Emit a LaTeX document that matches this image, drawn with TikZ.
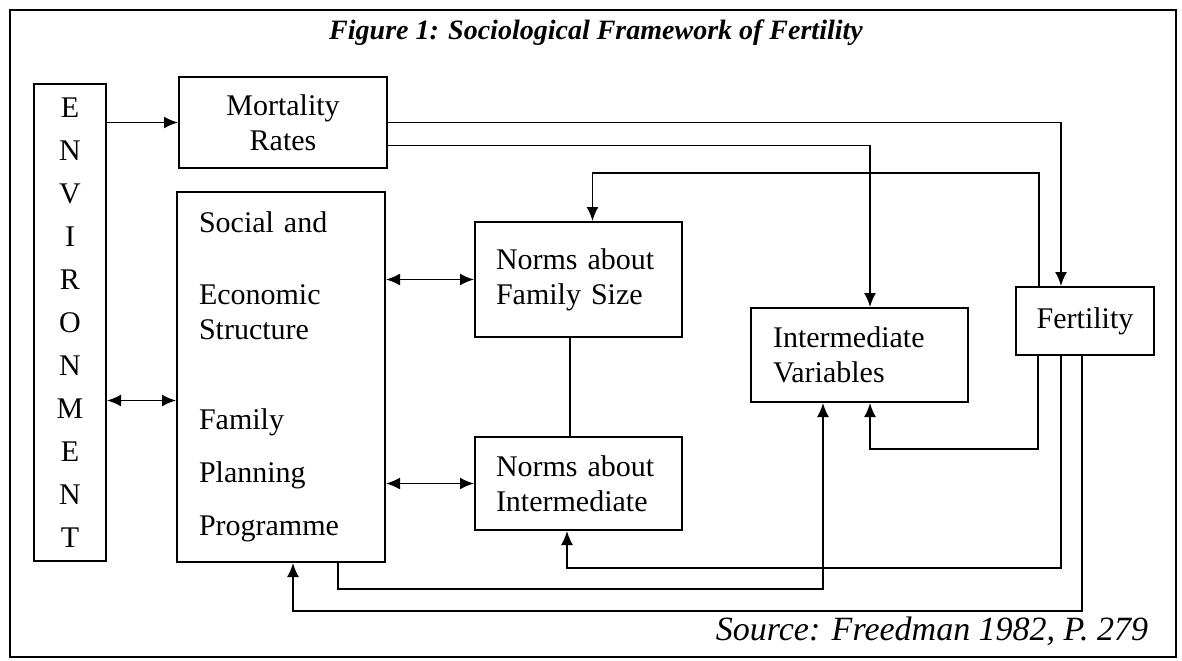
\documentclass[tikz,border=0pt]{standalone}
\usepackage{fontspec}
\setmainfont{Liberation Serif}
\usepackage{tikz}
\usetikzlibrary{arrows.meta,calc}

\begin{document}
\begin{tikzpicture}[x=0.5pt,y=-0.5pt,
  box/.style={draw,line width=1pt,inner sep=0pt,font=\fontsize{15}{17.5}\selectfont},
  arr/.style={line width=0.9pt,-{Latex[length=7pt,width=6pt]}},
  dbl/.style={line width=0.9pt,{Latex[length=7pt,width=6pt]}-{Latex[length=7pt,width=6pt]}}]
\useasboundingbox (0,0) rectangle (1182,660);
\draw[line width=1.3pt] (10,10) rectangle (1176,657);
\node (title) at (596,33) {\fontsize{14}{16}\selectfont\bfseries\itshape Figure 1: Sociological Framework of Fertility};
\node (src) at (932,631) {\fontsize{17}{20}\selectfont\itshape Source: Freedman 1982, P. 279};

\node[box,minimum width=36pt,minimum height=238.5pt,align=center,font=\fontsize{15}{21.5}\selectfont] (env) at (70,322.5) {E\\N\\V\\I\\R\\O\\N\\M\\E\\N\\T};
\node[box,minimum width=104pt,minimum height=45.5pt,align=center] (mort) at (283,122.5) {Mortality\\Rates};
\node[box,minimum width=104pt,minimum height=185pt,text width=82pt,inner xsep=11pt,align=left] (soc) at (281,377)
  {Social and\\[18.5pt]Economic\\Structure\\[27.5pt]Family\\[9pt]Planning\\[9pt]Programme};
\node[box,minimum width=103.5pt,minimum height=57.5pt,text width=82.5pt,inner xsep=10.5pt,align=left] (nfs) at (578.5,279.5) {Norms about\\Family Size};
\node[box,minimum width=103.5pt,minimum height=46.5pt,text width=82.5pt,inner xsep=10.5pt,align=left] (nint) at (578.5,483.5) {Norms about\\Intermediate};
\node[box,minimum width=108.5pt,minimum height=47pt,text width=86.5pt,inner xsep=11pt,align=left] (iv) at (859.5,355) {Intermediate\\Variables};
\node[box,minimum width=69pt,minimum height=34pt] (fert) at (1085,321) {Fertility};

% top links
\draw[arr] (env.east |- mort.west) -- (mort.west);
\draw[arr] (mort.east) -| ($(fert.north)+(-24,0)$);
\draw[arr] ($(mort.east)+(0,23)$) -| ($(iv.north)+(10.5,0)$);
\draw[arr] ($(fert.north)+(-46,0)$) |- ($(nfs.north)+(14,-48)$) -- ($(nfs.north)+(14,0)$);
\draw[dbl] (soc.east |- nfs.west) -- (nfs.west);
\draw[dbl] (soc.east |- nint.west) -- (nint.west);
\coordinate (envmid) at ($(env.east)+(0,78)$);
\draw[dbl] (envmid) -- (envmid -| soc.west);
\draw[line width=0.9pt] ($(nfs.south)+(-8.5,0)$) -- ($(nint.north)+(-8.5,0)$);
% bottom links
\draw[arr] ($(soc.south)+(57,0)$) |- ($(iv.south)+(-36.5,186)$) -- ($(iv.south)+(-36.5,0)$);
\draw[arr] ($(fert.south)+(-47,0)$) |- ($(iv.south)+(10.5,46)$) -- ($(iv.south)+(10.5,0)$);
\draw[arr] ($(fert.south)+(-24,0)$) |- ($(nint.south)+(-11.5,37)$) -- ($(nint.south)+(-11.5,0)$);
\draw[arr] ($(fert.south)+(-3,0)$) |- ($(soc.south)+(12,48)$) -- ($(soc.south)+(12,0)$);

\end{tikzpicture}
\end{document}
